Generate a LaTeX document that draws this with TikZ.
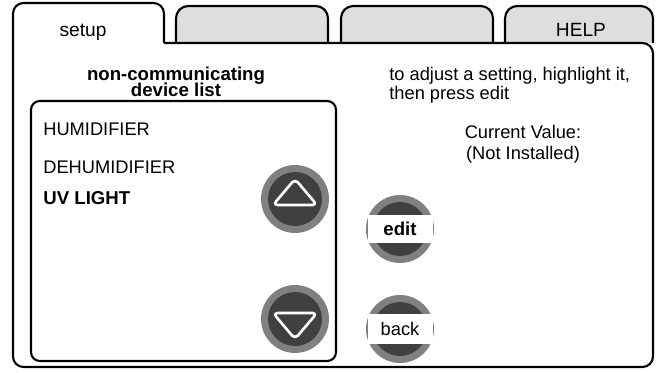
\documentclass[tikz,border=0pt]{standalone}
\usepackage{fontspec}
\setmainfont{Liberation Sans}
\usepackage{tikz}
\usetikzlibrary {calc,
                 positioning}
\definecolor{tabgray}{RGB}{222,222,222}
\definecolor{ringgray}{RGB}{128,128,128}
\definecolor{coregray}{RGB}{64,64,64}
\tikzset{
        frame/.style={draw, line width=1.2pt, rounded corners=6pt},
        tab/.style={frame, fill=tabgray, rounded corners=7pt},
        txt/.style={inner sep=0pt, font=\fontsize{10.4}{12}\selectfont},
        tablbl/.style={inner sep=0pt, font=\fontsize{10.9}{12}\selectfont},
        head/.style={inner sep=0pt, font=\fontsize{10.6}{12}\selectfont\bfseries},
        ring/.style={circle, fill=ringgray, minimum size=1.36cm, inner sep=0pt},
        core/.style={circle, fill=coregray, minimum size=1.08cm, inner sep=0pt},
        band/.style={rectangle, fill=white, minimum width=1.3cm,
                     minimum height=0.56cm, inner sep=0pt},
        arrowtri/.style={draw=white, line width=1.5pt, rounded corners=2.5pt,
                         line join=round},
 }
\begin{document}
\begin{tikzpicture}[x=0.02cm, y=-0.02cm]
    \useasboundingbox (0,0) rectangle (661,372);
    \draw[tab] (176,43) -- (176,6) -- (328,6) -- (328,43);
    \draw[tab] (341,43) -- (341,6) -- (493,6) -- (493,43);
    \draw[tab] (505,43) -- (505,6) -- (653,6) -- (653,43);
    \draw[frame] (164,43) -- (164,3) -- (13,3) -- (13,367) -- (653,367)
         -- (653,43) -- (164,43);
    \draw[frame, rounded corners=5pt] (31,101) rectangle (336,361);

    \node[tablbl, anchor=base] (setup) at (83,36) {setup};
    \node[tablbl, anchor=base] (help) at (581,36) {HELP};
    \node[head, anchor=base] (title1) at (176,80) {non-communicating};
    \node[head, anchor=base] (title2) at (176,96) {device list};
    \node[txt, anchor=base west] (hint1) at (389,80)
         {to adjust a setting, highlight it,};
    \node[txt, anchor=base west] (hint2) at (389,99) {then press edit};
    \node[txt, anchor=base] (curval) at (523,138) {Current Value:};
    \node[txt, anchor=base] (status) at (523,159) {(Not Installed)};

    \node[txt, anchor=base west] (humid) at (43,135) {HUMIDIFIER};
    \node[txt, anchor=base west] (dehumid) at (43,173) {DEHUMIDIFIER};
    \node[head, anchor=base west] (uvlight) at (43,204) {UV LIGHT};

    \node[ring] (up) at (295,199) {};
    \node[core] (upcore) at (up) {};
    \draw[arrowtri] ($(up)+(0,-20)$) -- ($(up)+(22,6)$) -- ($(up)+(-22,6)$)
         -- cycle;
    \node[ring] (down) at (295,319) {};
    \node[core] (downcore) at (down) {};
    \draw[arrowtri] ($(down)+(0,20)$) -- ($(down)+(22,-6)$)
         -- ($(down)+(-22,-6)$) -- cycle;

    \node[ring] (edit) at (400,229) {};
    \node[core] (editcore) at (edit) {};
    \node[band, font=\fontsize{10.6}{12}\selectfont\bfseries] (editlbl)
         at (edit) {edit};
    \node[ring] (back) at (400,329) {};
    \node[core] (backcore) at (back) {};
    \node[band, minimum height=0.6cm, font=\fontsize{10.4}{12}\selectfont]
         (backlbl) at (back) {back};
\end{tikzpicture}
\end{document}
